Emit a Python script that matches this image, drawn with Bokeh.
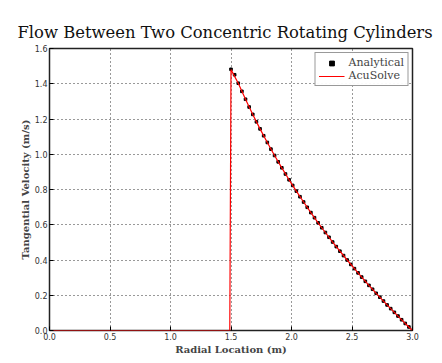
from bokeh.plotting import figure
from bokeh.models import Legend, LegendItem, FixedTicker, Range1d, NumeralTickFormatter
from bokeh.embed import file_html
from bokeh.resources import INLINE

# Analytical solution samples
r_analytical = [1.50, 1.53, 1.56, 1.59, 1.62, 1.65, 1.68, 1.71, 1.74, 1.77,
                1.80, 1.83, 1.86, 1.89, 1.92, 1.95, 1.98, 2.01, 2.04, 2.07,
                2.10, 2.13, 2.16, 2.19, 2.22, 2.25, 2.28, 2.31, 2.34, 2.37,
                2.40, 2.43, 2.46, 2.49, 2.52, 2.55, 2.58, 2.61, 2.64, 2.67,
                2.70, 2.73, 2.76, 2.79, 2.82, 2.85, 2.88, 2.91, 2.94, 2.97, 3.00]
v_analytical = [1.482, 1.451, 1.403, 1.357, 1.312, 1.268, 1.226, 1.184, 1.144, 1.105,
                1.067, 1.029, 0.993, 0.957, 0.923, 0.888, 0.855, 0.823, 0.791, 0.759,
                0.729, 0.699, 0.669, 0.640, 0.611, 0.583, 0.556, 0.529, 0.502, 0.476,
                0.450, 0.425, 0.400, 0.375, 0.351, 0.327, 0.303, 0.279, 0.256, 0.234,
                0.211, 0.189, 0.167, 0.145, 0.124, 0.103, 0.082, 0.061, 0.040, 0.020, 0.000]

# AcuSolve solution
r_acusolve = [0.00, 0.50, 1.00, 1.49, 1.50, 1.56, 1.62, 1.68, 1.74, 1.80, 1.86, 1.92,
              1.98, 2.04, 2.10, 2.16, 2.22, 2.28, 2.34, 2.40, 2.46, 2.52,
              2.58, 2.64, 2.70, 2.76, 2.82, 2.88, 2.94, 3.00]
v_acusolve = [0.000, 0.000, 0.000, 0.000, 1.480, 1.403, 1.312, 1.226, 1.144, 1.067, 0.993, 0.923,
              0.855, 0.791, 0.729, 0.669, 0.611, 0.556, 0.502, 0.450, 0.400, 0.351,
              0.303, 0.256, 0.211, 0.167, 0.124, 0.082, 0.040, 0.000]

x_ticks = [0.0, 0.5, 1.0, 1.5, 2.0, 2.5, 3.0]
y_ticks = [0.0, 0.2, 0.4, 0.6, 0.8, 1.0, 1.2, 1.4, 1.6]

p = figure(output_backend="svg", toolbar_location=None,
           frame_width=363, frame_height=282,
           x_range=Range1d(0, 3.0), y_range=Range1d(0, 1.6),
           min_border_left=49, min_border_top=48, min_border_bottom=26, min_border_right=26,
           title="Flow Between Two Concentric Rotating Cylinders")
p.background_fill_color = "white"
p.border_fill_color = "white"
p.outline_line_color = "#222222"
p.outline_line_width = 1.5

p.title.text_font = "DejaVu Serif"
p.title.text_font_size = "16.4px"
p.title.text_font_style = "normal"
p.title.text_color = "#111111"
p.title.align = "left"
p.title.offset = -32
p.title.standoff = 13

for ax in (p.xaxis[0], p.yaxis[0]):
    ax.major_label_text_font = "DejaVu Sans"
    ax.major_label_text_font_size = "8px"
    ax.major_label_text_color = "#333333"
    ax.axis_label_text_font = "DejaVu Serif"
    ax.axis_label_text_font_size = "10px"
    ax.axis_label_text_font_style = "bold"
    ax.major_tick_in = 4
    ax.major_tick_out = 0
    ax.minor_tick_line_color = None
    ax.axis_line_color = None
    ax.major_label_standoff = 2
    ax.axis_label_standoff = 1
    ax.formatter = NumeralTickFormatter(format="0.0")
p.xaxis[0].ticker = FixedTicker(ticks=x_ticks)
p.yaxis[0].ticker = FixedTicker(ticks=y_ticks)
p.xaxis[0].axis_label = "Radial Location (m)"
p.yaxis[0].axis_label = "Tangential Velocity (m/s)"

p.xgrid.ticker = FixedTicker(ticks=x_ticks)
p.ygrid.ticker = FixedTicker(ticks=y_ticks)
for g in (p.xgrid[0], p.ygrid[0]):
    g.grid_line_color = "#000000"
    g.grid_line_dash = "1 3"
    g.grid_line_width = 1
    g.grid_line_alpha = 0.8

ana = p.scatter(r_analytical, v_analytical, size=2.6, color="black", marker="square")
acu = p.line(r_acusolve, v_acusolve, line_color="#ff0000", line_width=1.2)

legend = Legend(items=[LegendItem(label="Analytical", renderers=[ana]),
                       LegendItem(label="AcuSolve", renderers=[acu])],
                location="top_right")
legend.label_text_font = "DejaVu Serif"
legend.label_text_font_size = "11px"
legend.border_line_color = "#333333"
legend.border_line_width = 1
legend.padding = 3
legend.spacing = 0
legend.margin = 4
legend.glyph_width = 26
legend.glyph_height = 12
legend.label_height = 12
legend.label_standoff = 4
p.add_layout(legend)

open("out.html", "w").write(file_html(p, INLINE))
